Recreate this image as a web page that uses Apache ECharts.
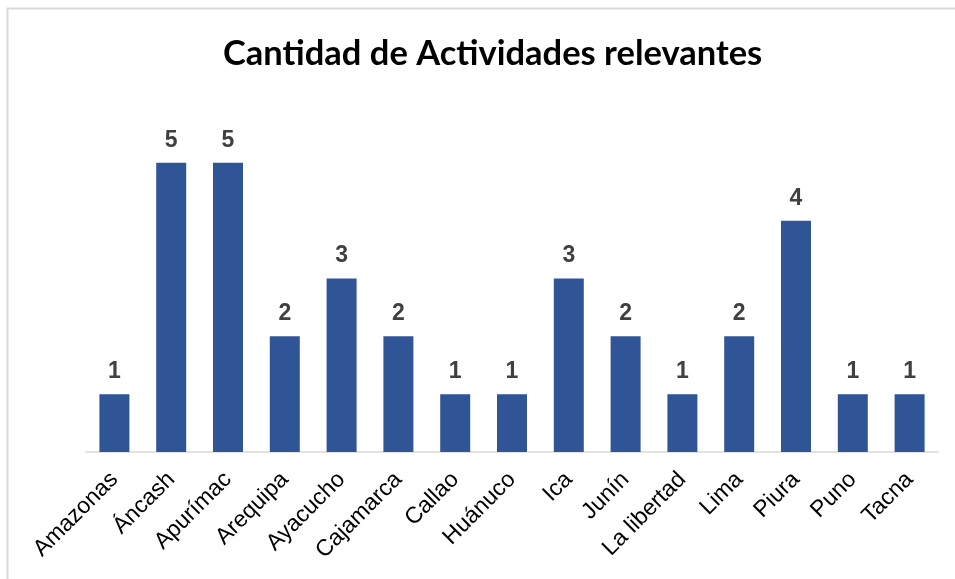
<!DOCTYPE html>
<html>
<head>
<meta charset="utf-8">
<script src="https://cdn.jsdelivr.net/npm/echarts@6/dist/echarts.min.js"></script>
<style>
  html, body { margin: 0; padding: 0; background: #fff; }
  #chart { width: 955px; height: 579px; }
</style>
</head>
<body>
<div id="chart"></div>
<script>
// regions and number of activities
const regiones = ['Amazonas', 'Áncash', 'Apurímac', 'Arequipa', 'Ayacucho', 'Cajamarca', 'Callao', 'Huánuco', 'Ica', 'Junín', 'La libertad', 'Lima', 'Piura', 'Puno', 'Tacna'];
const actividades = [1, 5, 5, 2, 3, 2, 1, 1, 3, 2, 1, 2, 4, 1, 1];

const myChart = echarts.init(document.getElementById('chart'));

const option = {
    animation: false,
    title: {
        text: 'Cantidad de Actividades relevantes',
        left: 218,
        top: 31,
        textStyle: {
            fontFamily: 'Lato, sans-serif',
            fontSize: 34.5,
            fontWeight: 'bold',
            color: '#000'
        }
    },
    // chart area border like the original
    graphic: [{
        type: 'rect',
        shape: { x: 7.5, y: 8.5, width: 960, height: 600 },
        style: { fill: null, stroke: '#d9d9d9', lineWidth: 2 },
        silent: true
    }],
    grid: {
        left: 86,
        right: 17,
        top: 105,
        bottom: 127
    },
    xAxis: {
        type: 'category',
        data: regiones,
        axisLine: { lineStyle: { color: '#d9d9d9', width: 1.5 } },
        axisTick: { show: false },
        axisLabel: {
            interval: 0,
            rotate: 45,
            margin: 24,
            fontFamily: 'Liberation Sans, Arial, sans-serif',
            fontSize: 23,
            color: '#000'
        }
    },
    yAxis: {
        type: 'value',
        min: 0,
        max: 6,
        show: false
    },
    series: [{
        type: 'bar',
        data: actividades,
        barWidth: 30,
        itemStyle: { color: '#2f5597' },
        label: {
            show: true,
            position: 'top',
            distance: 11,
            fontFamily: 'Liberation Sans, Arial, sans-serif',
            fontSize: 23,
            fontWeight: 'bold',
            color: '#404040'
        }
    }]
};

option && myChart.setOption(option);
</script>
</body>
</html>
